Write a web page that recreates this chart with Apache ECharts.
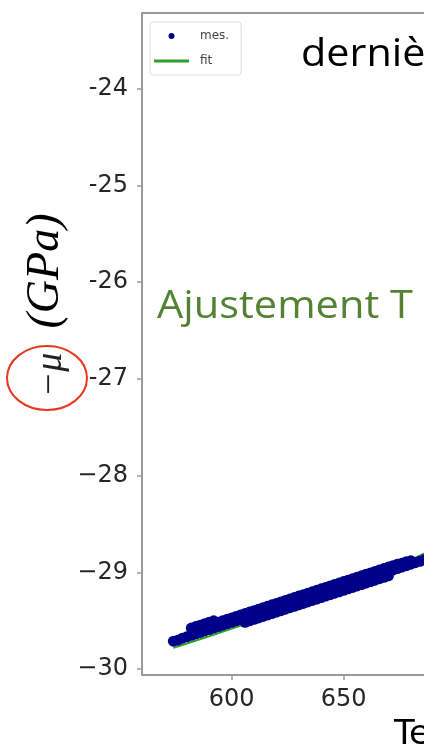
<!DOCTYPE html>
<html>
<head>
<meta charset="utf-8">
<script src="https://cdn.jsdelivr.net/npm/echarts@6/dist/echarts.min.js"></script>
<style>
  html, body { margin: 0; padding: 0; background: #fff; overflow: hidden; }
  #chart { width: 424px; height: 749px; }
</style>
</head>
<body>
<div id="chart"></div>
<script>
// Axis ticks and their printed labels
const xTicks = [600, 650, 700, 750];
const yTicks = [-30, -29, -28, -27, -26, -25, -24];
const yTickLabels = ['\u221230', '\u221229', '\u221228', '-27', '-26', '-25', '-24'];

// Measured shear modulus (−μ, GPa) versus temperature: core of the band
const mesCoreT = [574, 576, 578, 580, 582, 584, 586, 588, 590, 592, 594, 596, 598, 600,
  602, 604, 606, 608, 610, 612, 614, 616, 618, 620, 622, 624, 626, 628, 630, 632, 634,
  636, 638, 640, 642, 644, 646, 648, 650, 652, 654, 656, 658, 660, 662, 664, 666, 668,
  670, 672, 674, 676, 678, 680, 682, 684, 686, 688, 690, 692, 694, 696, 698, 700];
const mesCoreMu = [-29.71, -29.70, -29.68, -29.665, -29.65, -29.635, -29.62, -29.605,
  -29.59, -29.575, -29.56, -29.545, -29.53, -29.515, -29.50, -29.485, -29.47, -29.455,
  -29.44, -29.425, -29.41, -29.395, -29.38, -29.365, -29.35, -29.335, -29.32, -29.305,
  -29.29, -29.275, -29.26, -29.245, -29.23, -29.215, -29.20, -29.185, -29.17, -29.155,
  -29.14, -29.125, -29.11, -29.095, -29.08, -29.065, -29.05, -29.035, -29.02, -29.005,
  -28.99, -28.975, -28.96, -28.945, -28.93, -28.915, -28.90, -28.885, -28.87, -28.855,
  -28.84, -28.825, -28.81, -28.795, -28.78, -28.765];

// Second run, slightly shifted, at the start of the heating
const mesStepT = [582, 584, 586, 588, 590, 592];
const mesStepMu = [-29.575, -29.56, -29.545, -29.53, -29.515, -29.50];

// Upper spread of the measurements
const mesUpperT = [594, 596, 598, 600, 602, 604, 606, 608, 610, 612, 614, 616, 618, 620,
  622, 624, 626, 628, 630, 632, 634, 636, 638, 640, 642, 644, 646, 648, 650, 652, 654,
  656, 658, 660, 662, 664, 666, 668, 670, 672, 674, 676, 678, 680];
const mesUpperMu = [-29.515, -29.50, -29.485, -29.47, -29.455, -29.44, -29.425, -29.41,
  -29.395, -29.38, -29.365, -29.35, -29.335, -29.32, -29.305, -29.29, -29.275, -29.26,
  -29.245, -29.23, -29.215, -29.20, -29.185, -29.17, -29.155, -29.14, -29.125, -29.11,
  -29.095, -29.08, -29.065, -29.05, -29.035, -29.02, -29.005, -28.99, -28.975, -28.96,
  -28.945, -28.93, -28.915, -28.905, -28.89, -28.88];

// Lower spread of the measurements
const mesLowerT = [606, 608, 610, 612, 614, 616, 618, 620, 622, 624, 626, 628, 630, 632,
  634, 636, 638, 640, 642, 644, 646, 648, 650, 652, 654, 656, 658, 660, 662, 664, 666,
  668, 670];
const mesLowerMu = [-29.515, -29.50, -29.485, -29.47, -29.455, -29.44, -29.425, -29.41,
  -29.395, -29.38, -29.365, -29.35, -29.335, -29.32, -29.305, -29.29, -29.275, -29.26,
  -29.245, -29.23, -29.215, -29.20, -29.185, -29.17, -29.155, -29.14, -29.125, -29.11,
  -29.095, -29.08, -29.065, -29.05, -29.035];

// Fitted curve
const fitT = [574, 580, 590, 600, 610, 620, 630, 640, 650, 660, 670, 680, 690, 700, 710, 720];
const fitMu = [-29.78, -29.735, -29.66, -29.58, -29.505, -29.425, -29.34, -29.26, -29.17,
  -29.075, -28.975, -28.87, -28.76, -28.65, -28.53, -28.41];

const pairs = (xs, ys) => xs.map((x, i) => [x, ys[i]]);
const mesData = [].concat(
  pairs(mesCoreT, mesCoreMu),
  pairs(mesStepT, mesStepMu),
  pairs(mesUpperT, mesUpperMu),
  pairs(mesLowerT, mesLowerMu)
);

const spine = '#9a9a9a';
const navy = '#00008b';
const green = '#2ca02c';
const chart = echarts.init(document.getElementById('chart'), null, { renderer: 'canvas' });

chart.setOption({
  animation: false,
  backgroundColor: '#ffffff',
  grid: {
    left: 142, top: 13, width: 448, height: 662,
    show: true, borderColor: spine, borderWidth: 2,
    containLabel: false, outerBoundsMode: 'none'
  },
  legend: {
    orient: 'vertical',
    left: 150, top: 22,
    padding: [7, 12, 7, 4],
    itemGap: 11,
    itemWidth: 35, itemHeight: 6,
    borderColor: '#dddddd', borderWidth: 1, borderRadius: 3,
    backgroundColor: '#ffffff',
    textStyle: { fontFamily: 'DejaVu Sans', fontSize: 12, color: '#444', lineHeight: 14, padding: [0, 0, 0, 6] },
    data: [
      { name: 'mes.', icon: 'circle', itemStyle: { color: navy, opacity: 1 } },
      { name: 'fit', icon: 'path://M0,0H35V3H0Z', itemStyle: { color: green } }
    ]
  },
  xAxis: {
    type: 'value', min: 560, max: 760,
    axisLine: { show: true, onZero: false, lineStyle: { color: spine, width: 2 } },
    axisTick: { show: true, customValues: xTicks, length: 5, lineStyle: { color: spine, width: 1.5 } },
    axisLabel: {
      customValues: xTicks, margin: 13,
      fontFamily: 'DejaVu Sans', fontSize: 24, color: '#262626'
    },
    splitLine: { show: false }
  },
  yAxis: {
    type: 'value', min: -30.06, max: -23.22,
    axisLine: { show: true, onZero: false, lineStyle: { color: spine, width: 2 } },
    axisTick: { show: true, customValues: yTicks, length: 5, lineStyle: { color: spine, width: 1.5 } },
    axisLabel: {
      customValues: yTicks, margin: 14,
      fontFamily: 'DejaVu Sans', fontSize: 24, color: '#262626',
      formatter: v => yTickLabels[yTicks.indexOf(Math.round(v))]
    },
    splitLine: { show: false }
  },
  series: [
    {
      name: 'fit', type: 'line', data: pairs(fitT, fitMu),
      symbol: 'none', showSymbol: false,
      lineStyle: { color: green, width: 2 }, itemStyle: { color: green },
      z: 2
    },
    {
      name: 'mes.', type: 'scatter', data: mesData,
      symbolSize: 11,
      itemStyle: { color: navy, opacity: 1 },
      z: 3
    }
  ],
  graphic: [
    {
      type: 'text', x: 301, y: 55, scaleX: 1.06, z: 10,
      style: { text: 'dernières', font: '39px "Open Sans"', fill: '#000', verticalAlign: 'middle' }
    },
    {
      type: 'text', x: 157, y: 307, scaleX: 1.065, z: 10,
      style: { text: 'Ajustement T', font: '39px "Open Sans"', fill: '#548235', verticalAlign: 'middle' }
    },
    {
      type: 'text', x: 46, y: 271, rotation: Math.PI / 2, z: 10,
      style: { text: '(GPa)', font: 'italic 46px "Liberation Serif"', fill: '#000', align: 'center', verticalAlign: 'middle' }
    },
    {
      type: 'text', x: 51, y: 375, rotation: Math.PI / 2, z: 10,
      style: { text: '\u2212\u03bc', font: 'italic 38px "Liberation Serif"', fill: '#222', align: 'center', verticalAlign: 'middle' }
    },
    {
      type: 'ellipse', z: 11,
      shape: { cx: 47, cy: 378, rx: 40, ry: 32 },
      style: { fill: 'none', stroke: '#e8371d', lineWidth: 2 }
    },
    {
      type: 'text', x: 394, y: 735, z: 10,
      style: { text: 'Température', font: '34px "DejaVu Sans"', fill: '#000', verticalAlign: 'middle' }
    }
  ]
});
</script>
</body>
</html>
